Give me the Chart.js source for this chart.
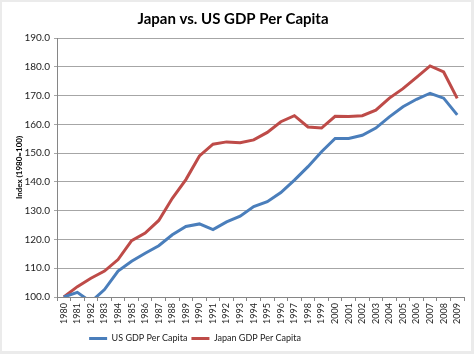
<!DOCTYPE html>
<html>
<head>
<meta charset="utf-8">
<script src="https://cdn.jsdelivr.net/npm/chart.js@4/dist/chart.umd.min.js"></script>
<style>
  html, body { margin: 0; padding: 0; background: #ebebeb; }
  #wrap { width: 474px; height: 354px; }
</style>
</head>
<body>
<div id="wrap"><canvas id="c" width="474" height="354"></canvas></div>
<script>
const years = [];
for (let y = 1980; y <= 2009; y++) years.push(String(y));

const usGdp = [100.0, 101.6, 98.3, 102.6, 109.0, 112.4, 115.2, 117.8, 121.6, 124.5,
  125.4, 123.4, 126.1, 128.1, 131.4, 133.1, 136.3, 140.6, 145.3, 150.5,
  155.1, 155.1, 156.2, 158.7, 162.6, 166.1, 168.7, 170.8, 169.1, 163.3];
const japanGdp = [100.0, 103.6, 106.5, 109.0, 113.0, 119.6, 122.2, 126.6, 134.3, 140.8,
  149.0, 153.1, 153.9, 153.6, 154.6, 157.2, 160.9, 163.0, 159.1, 158.7,
  162.8, 162.7, 163.0, 164.9, 169.1, 172.4, 176.3, 180.3, 178.2, 169.0];

const yTicks = [100, 110, 120, 130, 140, 150, 160, 170, 180, 190];

const FONT = "Lato, 'Open Sans', sans-serif";

// light frame like the spreadsheet export
const frame = {
  id: 'frame',
  beforeDraw(chart) {
    const ctx = chart.ctx;
    ctx.save();
    ctx.fillStyle = '#ebebeb';
    ctx.fillRect(0, 0, chart.width, chart.height);
    ctx.fillStyle = '#ffffff';
    ctx.fillRect(2, 2, chart.width - 5, chart.height - 5);
    ctx.restore();
  },
  // the excel legend sits left of centre
  afterLayout(chart) {
    chart.legend.left -= 38;
    chart.legend.right -= 38;
  }
};

new Chart(document.getElementById('c'), {
  type: 'line',
  data: {
    labels: years,
    datasets: [
      { label: 'US GDP Per Capita', data: usGdp, borderColor: '#4a7ebb', backgroundColor: '#4a7ebb',
        borderWidth: 3, pointRadius: 0, tension: 0 },
      { label: 'Japan GDP Per Capita', data: japanGdp, borderColor: '#be4b48', backgroundColor: '#be4b48',
        borderWidth: 3, pointRadius: 0, tension: 0 }
    ]
  },
  options: {
    responsive: false,
    animation: false,
    layout: { padding: { left: 2, right: 10, top: 4, bottom: 1 } },
    plugins: {
      title: {
        display: true,
        text: 'Japan vs. US GDP Per Capita',
        color: '#000',
        font: { family: FONT, size: 15, weight: 'bold' },
        padding: { top: 6, bottom: 10 }
      },
      legend: {
        position: 'bottom',
        labels: {
          color: '#222',
          font: { family: FONT, size: 9 },
          usePointStyle: true,
          pointStyle: 'line',
          pointStyleWidth: 18,
          padding: 4
        }
      },
      tooltip: { enabled: false }
    },
    scales: {
      x: {
        offset: true,
        grid: { display: true, drawOnChartArea: false, offset: true, color: '#868686', tickLength: 4 },
        border: { color: '#868686' },
        ticks: { color: '#222', font: { family: FONT, size: 9 }, minRotation: 90, maxRotation: 90, autoSkip: false, padding: 2 },
        afterFit(s) { s.height = 33; }
      },
      y: {
        min: 100,
        max: 190,
        afterBuildTicks(s) { s.ticks = yTicks.map(v => ({ value: v })); },
        grid: { color: '#a6a6a6', tickLength: 3 },
        border: { color: '#868686' },
        ticks: { color: '#222', font: { family: FONT, size: 10 }, padding: 4,
          callback: v => Number(v).toFixed(1) },
        title: { display: true, text: 'Index (1980=100)', color: '#000',
          font: { family: FONT, size: 8, weight: 'bold' }, padding: { top: 13, bottom: 2 } },
        afterFit(s) { s.width = 55; }
      }
    }
  },
  plugins: [frame]
});
</script>
</body>
</html>
